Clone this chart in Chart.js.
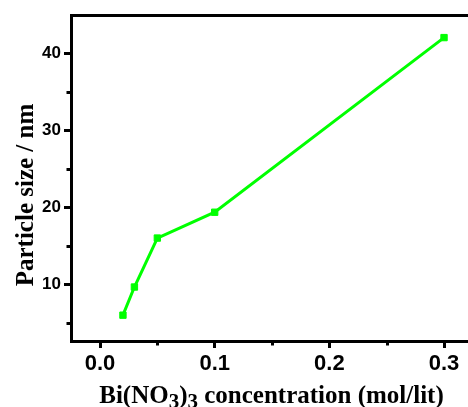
<!DOCTYPE html>
<html><head><meta charset="utf-8">
<script src="https://cdn.jsdelivr.net/npm/chart.js@4/dist/chart.umd.min.js"></script>
<style>html,body{margin:0;padding:0;background:#fff;overflow:hidden;}</style>
</head><body>
<canvas id="c" width="468" height="407" style="display:block;width:468px;height:407px"></canvas>
<script>
const concentrations = [0.02, 0.03, 0.05, 0.1, 0.3];
const particleSizes = [6.0, 9.65, 16.0, 19.35, 42.0];
const xMajorTicks = [0.0, 0.1, 0.2, 0.3];
const xMinorTicks = [0.05, 0.15, 0.25];
const yMajorTicks = [10, 20, 30, 40];
const yMinorTicks = [5, 15, 25, 35];
const xTitleParts = [["Bi(NO", false], ["3", true], [")", false], ["3", true], [" concentration (mol/lit)", false]];
const yTitle = "Particle size / nm";

const points = concentrations.map((c, i) => ({x: c, y: particleSizes[i]}));

const extrasPlugin = {
  id: 'extras',
  afterDraw(chart) {
    const ctx = chart.ctx;
    const area = chart.chartArea;
    const xs = chart.scales.x, ys = chart.scales.y;
    ctx.save();
    ctx.strokeStyle = '#000';
    ctx.lineWidth = 3;
    ctx.beginPath();
    xMinorTicks.forEach(v => {
      const px = Math.round(xs.getPixelForValue(v)) + 0.5;
      ctx.moveTo(px, area.bottom);
      ctx.lineTo(px, area.bottom + 4.5);
    });
    yMinorTicks.forEach(v => {
      const py = Math.round(ys.getPixelForValue(v)) + 0.5;
      if (py < area.top || py > area.bottom) return;
      ctx.moveTo(area.left, py);
      ctx.lineTo(area.left - 4.5, py);
    });
    ctx.stroke();

    // y title
    ctx.fillStyle = '#000';
    ctx.save();
    ctx.translate(33, 195);
    ctx.rotate(-Math.PI / 2);
    ctx.font = 'bold 25px "Liberation Serif"';
    ctx.textAlign = 'center';
    ctx.textBaseline = 'alphabetic';
    ctx.fillText(yTitle, 0, 0);
    ctx.restore();

    // x title with subscripts
    const mainFont = 'bold 25px "Liberation Serif"';
    const subFont = 'bold 21px "Liberation Serif"';
    let total = 0;
    xTitleParts.forEach(([t, sub]) => { ctx.font = sub ? subFont : mainFont; total += ctx.measureText(t).width; });
    let x = 271.5 - total / 2;
    const base = 403;
    ctx.textAlign = 'left';
    ctx.textBaseline = 'alphabetic';
    xTitleParts.forEach(([t, sub]) => {
      ctx.font = sub ? subFont : mainFont;
      ctx.fillText(t, x, sub ? base + 5 : base);
      x += ctx.measureText(t).width;
    });
    ctx.restore();
  }
};

new Chart(document.getElementById('c'), {
  type: 'line',
  data: {
    datasets: [{
      data: points,
      borderColor: '#00ff00',
      backgroundColor: '#00ff00',
      borderWidth: 3,
      pointStyle: 'rect',
      pointRadius: 4.5,
      pointBorderWidth: 1,
      pointBackgroundColor: '#00ff00',
      pointBorderColor: '#00ff00',
      tension: 0,
      fill: false
    }]
  },
  options: {
    responsive: false,
    animation: false,
    devicePixelRatio: 1,
    layout: {autoPadding: false, padding: {top: 15, right: 0, bottom: 0, left: 0}},
    plugins: {legend: {display: false}, tooltip: {enabled: false}},
    scales: {
      x: {
        type: 'linear', position: 'bottom', min: -0.0253, max: 0.3209,
        afterBuildTicks: s => { s.ticks = xMajorTicks.map(v => ({value: v})); },
        afterFit: s => { s.height = 66; s.paddingLeft = 0; s.paddingRight = 0; },
        ticks: {
          color: '#000', font: {family: '"Liberation Sans"', size: 22, weight: 'bold'},
          padding: 3, maxRotation: 0, autoSkip: false,
          callback: v => Number(v).toFixed(1)
        },
        grid: {drawOnChartArea: false, tickLength: 7, tickWidth: 3, tickColor: '#000'},
        border: {color: '#000', width: 3}
      },
      x2: {
        type: 'linear', position: 'top', axis: 'x', min: -0.0253, max: 0.3209,
        ticks: {display: false},
        afterFit: s => { s.height = 0; s.paddingLeft = 0; s.paddingRight = 0; },
        grid: {drawOnChartArea: false, drawTicks: false},
        border: {color: '#000', width: 3}
      },
      y: {
        type: 'linear', position: 'left', min: 2.65, max: 44.93,
        afterBuildTicks: s => { s.ticks = yMajorTicks.map(v => ({value: v})); },
        afterFit: s => { s.width = 71; s.paddingTop = 0; s.paddingBottom = 0; },
        ticks: {
          color: '#000', font: {family: '"Liberation Sans"', size: 17, weight: 'bold'},
          padding: 3, autoSkip: false
        },
        grid: {drawOnChartArea: false, tickLength: 7, tickWidth: 3, tickColor: '#000'},
        border: {color: '#000', width: 3}
      }
    }
  },
  plugins: [extrasPlugin]
});
</script>
</body></html>
